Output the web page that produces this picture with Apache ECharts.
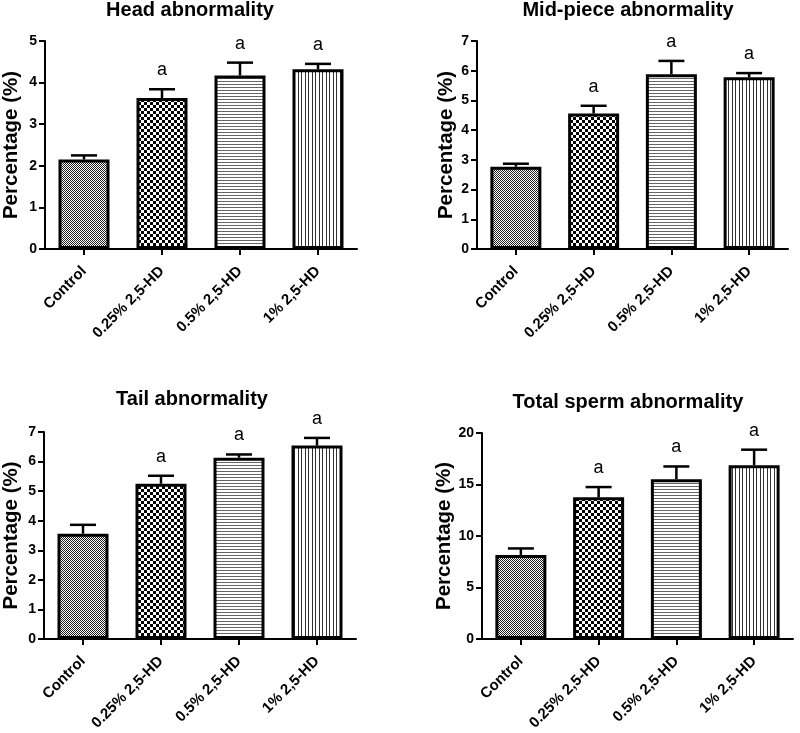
<!DOCTYPE html>
<html>
<head>
<meta charset="utf-8">
<script src="https://cdn.jsdelivr.net/npm/echarts@6/dist/echarts.min.js"></script>
<style>
html,body{margin:0;padding:0;background:#fff;}
#chart{width:800px;height:733px;}
</style>
</head>
<body>
<div id="chart"></div>
<script>
// ---- data ----
const categories = ['Control', '0.25% 2,5-HD', '0.5% 2,5-HD', '1% 2,5-HD'];
const panelTitles = ['Head abnormality', 'Mid-piece abnormality', 'Tail abnormality', 'Total sperm abnormality'];
const yAxisName = 'Percentage (%)';
const sigLabels = ['', 'a', 'a', 'a'];

const headMean = [2.15, 3.63, 4.17, 4.32];
const headSem  = [0.10, 0.21, 0.31, 0.13];
const midMean  = [2.77, 4.56, 5.88, 5.78];
const midSem   = [0.10, 0.26, 0.45, 0.14];
const tailMean = [3.56, 5.25, 6.13, 6.54];
const tailSem  = [0.30, 0.27, 0.11, 0.26];
const totalMean = [8.16, 13.75, 15.51, 16.88];
const totalSem  = [0.63, 1.00, 1.24, 1.50];

const yMaxes = [5, 7, 7, 20];
const yIntervals = [1, 1, 1, 5];

// ---- styling ----
const FONT = '"Liberation Sans", Arial, sans-serif';

function makePattern(kind) {
  const c = document.createElement('canvas');
  let ctx;
  if (kind === 'fine') {
    c.width = 2; c.height = 2; ctx = c.getContext('2d');
    ctx.fillStyle = '#fff'; ctx.fillRect(0, 0, 2, 2);
    ctx.fillStyle = '#222'; ctx.fillRect(0, 0, 1, 1); ctx.fillRect(1, 1, 1, 1);
  } else if (kind === 'coarse') {
    c.width = 6; c.height = 6; ctx = c.getContext('2d');
    ctx.fillStyle = '#fff'; ctx.fillRect(0, 0, 6, 6);
    ctx.fillStyle = '#000'; ctx.fillRect(0, 0, 3, 3); ctx.fillRect(3, 3, 3, 3);
  } else if (kind === 'hline') {
    c.width = 1; c.height = 3; ctx = c.getContext('2d');
    ctx.fillStyle = '#fff'; ctx.fillRect(0, 0, 1, 3);
    ctx.fillStyle = '#666'; ctx.fillRect(0, 0, 1, 1);
  } else {
    c.width = 7; c.height = 1; ctx = c.getContext('2d');
    ctx.fillStyle = '#fff'; ctx.fillRect(0, 0, 7, 1);
    ctx.fillStyle = '#333'; ctx.fillRect(0, 0, 1, 1); ctx.fillRect(4, 0, 1, 1);
  }
  return { image: c, repeat: 'repeat' };
}
const patterns = [makePattern('fine'), makePattern('coarse'), makePattern('hline'), makePattern('vline')];

const panels = [
  { mean: headMean, sem: headSem },
  { mean: midMean, sem: midSem },
  { mean: tailMean, sem: tailSem },
  { mean: totalMean, sem: totalSem }
];

const grids = [
  { left: 45, top: 41, width: 312, height: 208 },
  { left: 477, top: 41, width: 311, height: 208 },
  { left: 44, top: 432, width: 312, height: 208 },
  { left: 482, top: 433, width: 311, height: 210 }
];
const titlePos = [
  { x: 190, y: 0 }, { x: 628, y: 0 }, { x: 192, y: 389 }, { x: 628, y: 392 }
];
const nameGaps = [23, 18, 22, 22];

const xAxes = [], yAxes = [], series = [], titles = [];
panels.forEach((p, i) => {
  titles.push({
    text: panelTitles[i], left: titlePos[i].x, top: titlePos[i].y, textAlign: 'center', padding: 0,
    textStyle: { fontFamily: FONT, fontWeight: 'bold', fontSize: 20, color: '#000' }
  });
  xAxes.push({
    type: 'category', gridIndex: i, data: categories,
    axisLine: { show: true, lineStyle: { color: '#000', width: 2 } },
    axisTick: { show: true, alignWithLabel: true, length: 6, lineStyle: { color: '#000', width: 2 } },
    axisLabel: { interval: 0, rotate: 45, margin: 20, color: '#000', fontWeight: 'bold', fontSize: 15, fontFamily: FONT },
    splitLine: { show: false }
  });
  yAxes.push({
    type: 'value', gridIndex: i, min: 0, max: yMaxes[i], interval: yIntervals[i],
    name: yAxisName, nameLocation: 'middle', nameGap: nameGaps[i],
    nameTextStyle: { fontFamily: FONT, fontWeight: 'bold', fontSize: 20.5, color: '#000' },
    axisLine: { show: true, lineStyle: { color: '#000', width: 2 } },
    axisTick: { show: true, length: 6, lineStyle: { color: '#000', width: 2 } },
    axisLabel: { margin: 8, color: '#000', fontWeight: 'bold', fontSize: 14, fontFamily: FONT },
    splitLine: { show: false }
  });
  series.push({
    type: 'bar', xAxisIndex: i, yAxisIndex: i, barWidth: 51,
    data: p.mean.map((v, j) => ({ value: v, itemStyle: { color: patterns[j] } })),
    itemStyle: { borderColor: '#000', borderWidth: 3 },
    emphasis: { disabled: true }, silent: true
  });
  series.push({
    type: 'custom', xAxisIndex: i, yAxisIndex: i, silent: true, z: 5,
    encode: { x: 0, y: [1, 2] },
    data: p.mean.map((v, j) => [j, v, v + p.sem[j]]),
    renderItem: function (params, api) {
      const cx = api.value(0), m = api.value(1), t = api.value(2);
      const p0 = api.coord([cx, m]);
      const p1 = api.coord([cx, t]);
      const children = [
        { type: 'line', shape: { x1: p0[0], y1: p0[1], x2: p1[0], y2: p1[1] }, style: { stroke: '#000', lineWidth: 2.5 } },
        { type: 'line', shape: { x1: p1[0] - 13, y1: p1[1], x2: p1[0] + 13, y2: p1[1] }, style: { stroke: '#000', lineWidth: 2.5 } }
      ];
      const lab = sigLabels[params.dataIndex];
      if (lab) {
        children.push({
          type: 'text', x: p1[0], y: p1[1] - 10,
          style: { text: lab, fontSize: 18, fontFamily: FONT, fill: '#000', align: 'center', verticalAlign: 'bottom' }
        });
      }
      return { type: 'group', children: children };
    }
  });
});

const chart = echarts.init(document.getElementById('chart'), null, { renderer: 'canvas' });
chart.setOption({
  backgroundColor: '#fff',
  animation: false,
  title: titles,
  grid: grids,
  xAxis: xAxes,
  yAxis: yAxes,
  series: series
});
</script>
</body>
</html>
